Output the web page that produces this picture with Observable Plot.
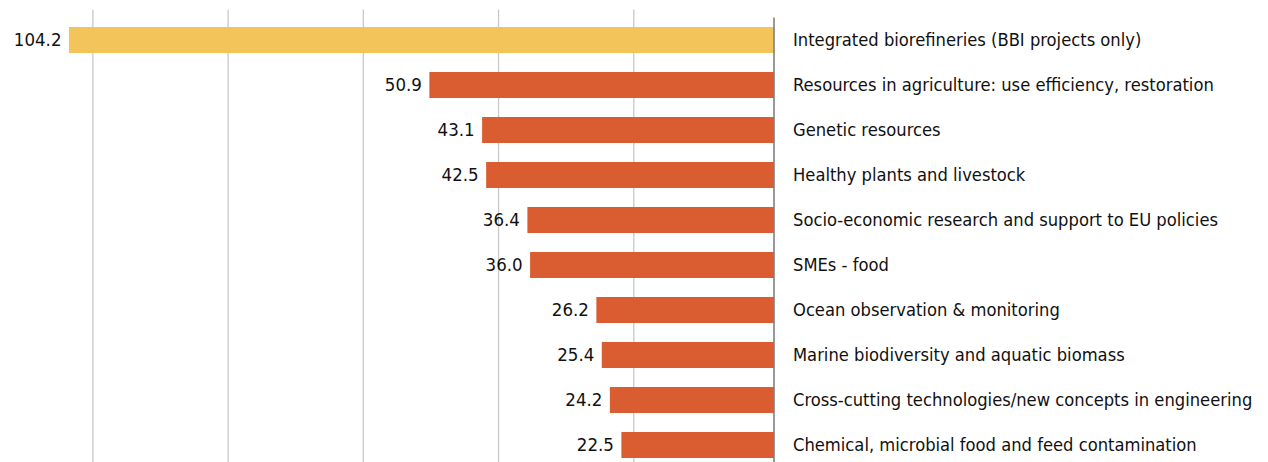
<!DOCTYPE html>
<html>
<head>
<meta charset="utf-8">
<script src="https://cdn.jsdelivr.net/npm/d3@7"></script>
<script src="https://cdn.jsdelivr.net/npm/@observablehq/plot@0.6"></script>
<style>
  html, body { margin: 0; padding: 0; background: #fff; overflow: hidden; }
</style>
</head>
<body>
<div id="chart"></div>
<script>
const categories = [
  "Integrated biorefineries (BBI projects only)",
  "Resources in agriculture: use efficiency, restoration",
  "Genetic resources",
  "Healthy plants and livestock",
  "Socio-economic research and support to EU policies",
  "SMEs - food",
  "Ocean observation & monitoring",
  "Marine biodiversity and aquatic biomass",
  "Cross-cutting technologies/new concepts in engineering",
  "Chemical, microbial food and feed contamination"
];
const values = [104.2, 50.9, 43.1, 42.5, 36.4, 36.0, 26.2, 25.4, 24.2, 22.5];
const highlight = [true, false, false, false, false, false, false, false, false, false];
const gridTicks = [20, 40, 60, 80, 100];

const data = categories.map((c, i) => ({name: c, value: values[i], hl: highlight[i]}));
const font = "'DejaVu Sans Condensed', 'Roboto', sans-serif";

const chart = Plot.plot({
  width: 1268,
  height: 462,
  marginTop: 17.5,
  marginBottom: 0,
  marginLeft: 0,
  marginRight: 0,
  style: {fontFamily: font, background: "#fff"},
  x: {domain: [0, 104.2], range: [773.5, 69], axis: null},
  y: {domain: categories, range: [17.5, 468.5], paddingInner: 0.42, paddingOuter: 0.21, axis: null},
  marks: [
    Plot.ruleX(gridTicks, {x: d => d, dx: -5, stroke: "#c8c8c8", strokeWidth: 1.3, insetTop: -8}),
    Plot.barX(data, {x: "value", y: "name", fill: d => d.hl ? "#f2c45a" : "#d95d30"}),
    Plot.ruleX([0], {stroke: "#555", strokeWidth: 1.2}),
    Plot.text(data, {x: "value", y: "name", text: d => d.value.toFixed(1), textAnchor: "end", dx: -8, fontSize: 18.5, fill: "#111"}),
    Plot.text(data, {x: () => 0, y: "name", text: "name", textAnchor: "start", dx: 19, fontSize: 18.2, fill: "#111"})
  ]
});
document.getElementById("chart").appendChild(chart);
</script>
</body>
</html>
